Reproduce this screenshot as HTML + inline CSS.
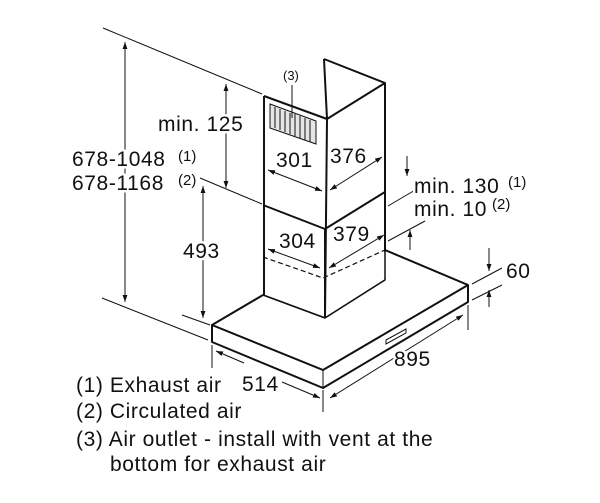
<!DOCTYPE html>
<html><head><style>
html,body{margin:0;padding:0;background:#fff;width:600px;height:503px;overflow:hidden}
svg{display:block}
text{font-family:"Liberation Sans",Arial,sans-serif;fill:#111;stroke:#fff;stroke-width:5px;paint-order:stroke;stroke-linejoin:round}
</style></head><body>
<svg width="600" height="503" viewBox="0 0 600 503">
<defs>
<marker id="a" viewBox="0 0 10 10" refX="10" refY="5" markerWidth="7" markerHeight="7" orient="auto-start-reverse"><path d="M0,1.5 L10,5 L0,8.5 z" fill="#111"/></marker>
</defs>
<g stroke="#111" fill="none" stroke-width="1">
<line x1="103" y1="28" x2="262" y2="94"/>
<line x1="200" y1="178" x2="262" y2="204"/>
<line x1="102" y1="298" x2="208" y2="340"/>
<line x1="182" y1="315" x2="210" y2="325"/>
<line x1="125" y1="42" x2="125" y2="302" marker-start="url(#a)" marker-end="url(#a)"/>
<line x1="226" y1="84" x2="226" y2="188" marker-start="url(#a)" marker-end="url(#a)"/>
<line x1="203" y1="186" x2="203" y2="318" marker-start="url(#a)" marker-end="url(#a)"/>
</g>
<g stroke="#111" fill="none" stroke-width="2" stroke-linejoin="round">
<polyline points="264,96 327,119 385,83"/>
<polyline points="324,59 385,83 385,252"/>
<line x1="324" y1="59" x2="327" y2="119"/>
<line x1="264" y1="96" x2="264" y2="295"/>
<line x1="327" y1="119" x2="325" y2="318"/>
<polyline points="263,205 325,229 385,192"/>
<polyline points="263,295 325,318 385,280" stroke-width="1.5"/>
<polygon points="263,295 212,325 323,370 468,285 385,250 385,280 325,318" fill="#fff" stroke-width="1.5"/>
<polyline points="263,295 212,325 323,370 468,285 385,250"/>
<polyline points="212,325 212,342 323,388 468,302 468,285"/>
<line x1="323" y1="370" x2="323" y2="388" stroke-width="1"/>
</g>
<line x1="325" y1="318" x2="325" y2="229" stroke="#111" stroke-width="2"/>
<polyline points="263,257 323,278 385,250" stroke="#111" stroke-width="1.2" fill="none" stroke-dasharray="5,3"/>
<g stroke="#111" stroke-width="1" fill="none">
<polygon points="270,104 316,121 316,144 270,128" fill="#e5e5e5"/>
<line x1="275" y1="107" x2="275" y2="128"/><line x1="280" y1="109" x2="280" y2="130"/>
<line x1="285" y1="111" x2="285" y2="132"/><line x1="290" y1="113" x2="290" y2="134"/>
<line x1="295" y1="114" x2="295" y2="136"/><line x1="300" y1="116" x2="300" y2="138"/>
<line x1="305" y1="118" x2="305" y2="140"/><line x1="310" y1="120" x2="310" y2="142"/>
<line x1="292" y1="85" x2="292" y2="118"/>
</g>
<polygon points="386,340 406,329 406,333 386,344" fill="#fff" stroke="#111" stroke-width="1"/>
<g stroke="#111" fill="none" stroke-width="1">
<line x1="268" y1="170" x2="322" y2="191" marker-start="url(#a)" marker-end="url(#a)"/>
<line x1="382" y1="157" x2="330" y2="190" marker-start="url(#a)" marker-end="url(#a)"/>
<line x1="268" y1="249" x2="320" y2="268" marker-start="url(#a)" marker-end="url(#a)"/>
<line x1="384" y1="235" x2="329" y2="268" marker-start="url(#a)" marker-end="url(#a)"/>
<line x1="388" y1="206" x2="422" y2="186"/>
<line x1="388" y1="241" x2="425" y2="221"/>
<line x1="407" y1="156" x2="407" y2="176" marker-end="url(#a)"/>
<line x1="410" y1="250" x2="410" y2="230" marker-end="url(#a)"/>
<line x1="472" y1="284" x2="502" y2="268"/>
<line x1="472" y1="300" x2="502" y2="285"/>
<line x1="489" y1="248" x2="489" y2="271" marker-end="url(#a)"/>
<line x1="489" y1="307" x2="489" y2="290" marker-end="url(#a)"/>
<line x1="468" y1="305" x2="468" y2="330"/>
<line x1="330" y1="398" x2="463" y2="315" marker-start="url(#a)" marker-end="url(#a)"/>
<line x1="212" y1="345" x2="212" y2="368"/>
<line x1="323" y1="390" x2="323" y2="412"/>
<line x1="216" y1="351" x2="244" y2="363" marker-start="url(#a)"/>
<line x1="282" y1="382" x2="320" y2="398" marker-end="url(#a)"/>
</g>
<g font-size="21" letter-spacing="0.6">
<text x="283" y="80" font-size="13" letter-spacing="0">(3)</text>
<text x="158" y="131">min. 125</text>
<text x="72" y="166">678-1048</text><text x="178" y="161" font-size="15" letter-spacing="0">(1)</text>
<text x="72" y="190">678-1168</text><text x="178" y="185" font-size="15" letter-spacing="0">(2)</text>
<text x="183" y="258">493</text>
<text x="276" y="167">301</text>
<text x="330" y="163">376</text>
<text x="279" y="248">304</text>
<text x="333" y="241">379</text>
<text x="414" y="193">min. 130</text><text x="508" y="187" font-size="15" letter-spacing="0">(1)</text>
<text x="414" y="216">min. 10</text><text x="492" y="209" font-size="15" letter-spacing="0">(2)</text>
<text x="506" y="278">60</text>
<text x="394" y="366">895</text>
<text x="242" y="391">514</text>
<text x="76" y="392">(1) Exhaust air</text>
<text x="76" y="418">(2) Circulated air</text>
<text x="76" y="446">(3) Air outlet - install with vent at the</text>
<text x="110" y="471">bottom for exhaust air</text>
</g>
</svg>
</body></html>
